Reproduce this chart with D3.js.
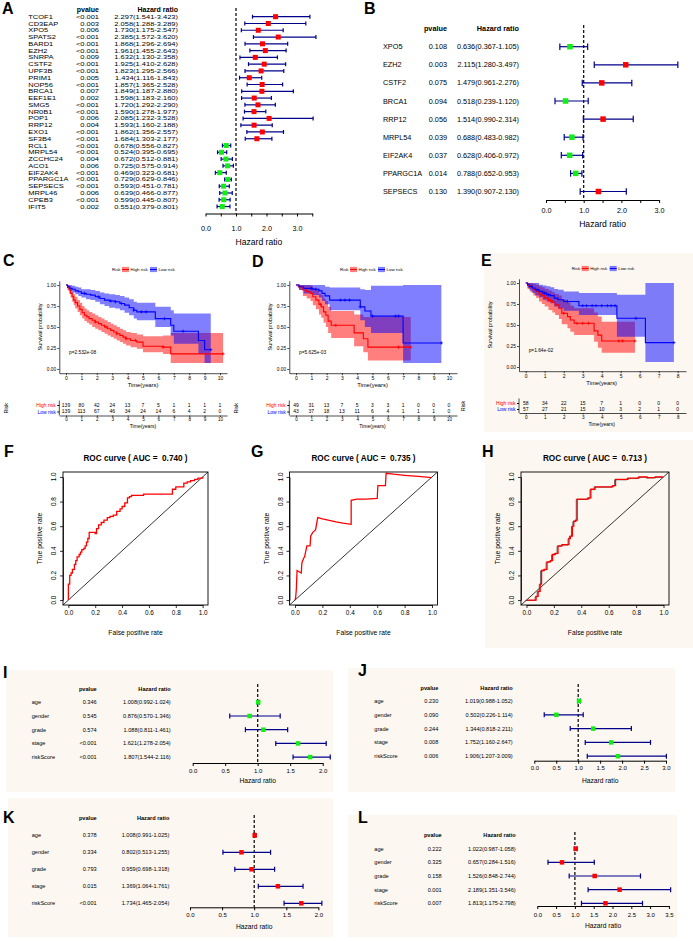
<!DOCTYPE html>
<html>
<head>
<meta charset="utf-8">
<script src="https://cdn.jsdelivr.net/npm/d3@7"></script>
<style>
  body { margin: 0; background: #fff; }
  svg { display: block; }
</style>
</head>
<body>
<svg id="fig" width="693" height="941"></svg>
<script>
const FONT = "'Liberation Sans', Arial, Helvetica, sans-serif";
const CREAM = "#fdf7f1";
const NAVY = "#00008b";
const RED = "#ff0000";
const GREEN = "#11ee11";

// ---------- A: univariate cox, 29 genes ----------
const aGenes = ["TCOF1","CD3EAP","XPO5","SPATS2","BARD1","EZH2","SNRPA","CSTF2","UPF3B","PRIM1",
  "NOP56","BRCA1","EEF1E1","SMG5","NR0B1","POP1","RRP12","EXO1","SF3B4","RCL1","MRPL54",
  "ZCCHC24","ACO1","EIF2AK4","PPARGC1A","SEPSECS","MRPL46","CPEB3","IFIT5"];
const aPval = ["<0.001","0.003","0.006","<0.001","<0.001","<0.001","0.009","<0.001","<0.001","0.005",
  "<0.001","0.007","0.002","<0.001","<0.001","0.006","0.004","<0.001","<0.001","<0.001","<0.001",
  "0.004","0.006","<0.001","<0.001","<0.001","0.006","<0.001","0.002"];
const aHR = [2.297,2.058,1.730,2.385,1.868,1.961,1.632,1.925,1.823,1.434,1.857,1.849,1.598,1.720,1.590,
  2.085,1.593,1.862,1.684,0.678,0.524,0.672,0.725,0.469,0.729,0.593,0.639,0.599,0.551];
const aLow = [1.541,1.288,1.175,1.572,1.296,1.455,1.130,1.410,1.295,1.116,1.365,1.187,1.183,1.292,1.278,
  1.232,1.160,1.356,1.303,0.556,0.395,0.512,0.575,0.323,0.629,0.451,0.466,0.445,0.379];
const aHigh = [3.423,3.289,2.547,3.620,2.694,2.643,2.358,2.628,2.566,1.843,2.528,2.880,2.160,2.290,1.977,
  3.528,2.188,2.557,2.177,0.827,0.695,0.881,0.914,0.681,0.846,0.781,0.877,0.807,0.801];

// ---------- B: multivariate cox, 9 genes ----------
const bGenes = ["XPO5","EZH2","CSTF2","BRCA1","RRP12","MRPL54","EIF2AK4","PPARGC1A","SEPSECS"];
const bPval = ["0.108","0.003","0.075","0.094","0.056","0.039","0.037","0.014","0.130"];
const bHR = [0.636,2.115,1.479,0.518,1.514,0.688,0.628,0.788,1.390];
const bLow = [0.367,1.280,0.961,0.239,0.990,0.483,0.406,0.652,0.907];
const bHigh = [1.105,3.497,2.276,1.120,2.314,0.982,0.972,0.953,2.130];

// ---------- I-L: clinical cox ----------
const clinVars = ["age","gender","grade","stage","riskScore"];
const iPval = ["0.346","0.545","0.574","<0.001","<0.001"];
const iHR = [1.008,0.876,1.088,1.621,1.807];
const iLow = [0.992,0.570,0.811,1.278,1.544];
const iHigh = [1.024,1.346,1.461,2.054,2.116];
const jPval = ["0.230","0.090","0.244","0.008","0.006"];
const jHR = [1.019,0.502,1.344,1.752,1.906];
const jLow = [0.988,0.226,0.818,1.160,1.207];
const jHigh = [1.052,1.114,2.211,2.647,3.009];
const kPval = ["0.378","0.334","0.793","0.015","<0.001"];
const kHR = [1.008,0.802,0.959,1.369,1.734];
const kLow = [0.991,0.513,0.698,1.064,1.465];
const kHigh = [1.025,1.255,1.318,1.761,2.054];
const lPval = ["0.222","0.325","0.158","0.001","0.007"];
const lHR = [1.022,0.657,1.526,2.189,1.813];
const lLow = [0.987,0.284,0.848,1.351,1.175];
const lHigh = [1.058,1.516,2.744,3.546,2.798];

// ---------- C-E: Kaplan-Meier (time, survival, lower, upper) ----------
const cHighT = [0,0.1,0.2,0.3,0.4,0.5,0.6,0.75,0.9,1.05,1.2,1.35,1.5,1.7,1.9,2.1,2.3,2.5,2.7,2.9,3.1,3.3,3.5,3.7,3.9,4.2,4.6,5.0,6.3,6.8];
const cHighS = [1,0.97,0.94,0.9,0.86,0.82,0.79,0.75,0.71,0.67,0.64,0.62,0.6,0.58,0.56,0.54,0.52,0.5,0.48,0.46,0.44,0.42,0.4,0.38,0.36,0.34,0.32,0.27,0.26,0.18];
const cHighLo = [1,0.94,0.9,0.85,0.8,0.76,0.72,0.68,0.64,0.6,0.57,0.55,0.53,0.5,0.48,0.46,0.44,0.42,0.4,0.38,0.36,0.34,0.32,0.3,0.28,0.26,0.24,0.2,0.18,0.07];
const cHighUp = [1,1,0.98,0.95,0.92,0.89,0.86,0.82,0.79,0.75,0.72,0.7,0.68,0.66,0.64,0.62,0.6,0.58,0.56,0.54,0.52,0.5,0.48,0.46,0.44,0.43,0.41,0.39,0.4,0.43];
const cHighEnd = 10.2;
const cHighCens = [1.9,2.6,3.3,3.9,4.5,6.3,10.2];
const cLowT = [0,0.1,0.25,0.4,0.6,0.8,1.0,1.3,1.6,1.9,2.2,2.5,2.8,3.2,3.5,3.8,4.1,4.4,4.6,5.8,6.8,7.0,8.6,9.0];
const cLowS = [1,0.98,0.96,0.95,0.93,0.92,0.9,0.89,0.88,0.86,0.84,0.82,0.81,0.8,0.78,0.76,0.73,0.7,0.68,0.6,0.52,0.45,0.34,0.23];
const cLowLo = [1,0.96,0.93,0.91,0.89,0.87,0.85,0.83,0.82,0.8,0.77,0.75,0.73,0.72,0.7,0.67,0.64,0.6,0.58,0.5,0.4,0.3,0.18,0.07];
const cLowUp = [1,1,1,0.99,0.98,0.97,0.95,0.95,0.94,0.93,0.91,0.9,0.89,0.88,0.87,0.85,0.83,0.8,0.79,0.74,0.7,0.66,0.66,0.66];
const cLowEnd = 9.4;
const cLowCens = [1.2,2.1,2.9,3.2,3.6,4.4,4.9,5.2,6.4,7.6,9.4];

const dHighT = [0,0.2,0.45,0.7,0.95,1.1,1.3,1.5,1.65,1.8,1.95,2.1,2.3,3.8,4.4,4.7];
const dHighS = [1,0.98,0.94,0.92,0.9,0.86,0.82,0.77,0.74,0.68,0.64,0.57,0.52,0.43,0.36,0.26];
const dHighLo = [1,0.94,0.87,0.84,0.81,0.76,0.71,0.65,0.61,0.55,0.5,0.43,0.37,0.27,0.2,0.1];
const dHighUp = [1,1,1,1,0.99,0.96,0.94,0.9,0.88,0.84,0.81,0.74,0.69,0.65,0.62,0.62];
const dHighEnd = 7.5;
const dHighCens = [0.2,1.6,2.6,6.7,7.5];
const dLowT = [0,0.2,0.5,1.1,1.5,1.7,1.9,2.2,4.2,4.5,4.9,7.0];
const dLowS = [1,0.98,0.96,0.95,0.93,0.9,0.87,0.82,0.74,0.69,0.63,0.31];
const dLowLo = [1,0.94,0.9,0.88,0.85,0.81,0.77,0.7,0.58,0.5,0.43,0.07];
const dLowUp = [1,1,1,1,1,1,0.98,0.97,0.95,0.94,0.99,1];
const dLowEnd = 9.5;
const dLowCens = [1.0,1.3,2.9,3.2,3.5,4.2,5.0,6.5,6.7,9.5];

const eHighT = [0,0.1,0.25,0.4,0.55,0.7,0.85,1.0,1.2,1.4,1.55,1.75,1.9,2.2,2.35,2.55,3.6,3.8,4.0];
const eHighS = [1,0.97,0.95,0.92,0.9,0.87,0.85,0.82,0.79,0.77,0.74,0.7,0.64,0.6,0.56,0.52,0.43,0.38,0.31];
const eHighLo = [1,0.93,0.89,0.85,0.82,0.78,0.75,0.72,0.68,0.65,0.62,0.57,0.51,0.46,0.42,0.38,0.3,0.23,0.17];
const eHighUp = [1,1,1,0.99,0.98,0.96,0.95,0.93,0.91,0.89,0.87,0.85,0.8,0.77,0.73,0.7,0.65,0.6,0.54];
const eHighEnd = 5.75;
const eHighCens = [0.8,1.3,2.0,2.7,3.0,3.3,4.9,5.1,5.75];
const eLowT = [0,0.1,0.2,0.35,0.5,0.7,0.9,1.1,1.3,1.5,1.7,2.0,2.8,4.8,6.3];
const eLowS = [1,0.98,0.96,0.94,0.92,0.9,0.88,0.86,0.85,0.82,0.8,0.78,0.73,0.58,0.29];
const eLowLo = [1,0.94,0.91,0.88,0.85,0.83,0.8,0.78,0.76,0.72,0.7,0.67,0.62,0.36,0.06];
const eLowUp = [1,1,1,1,1,0.98,0.97,0.96,0.95,0.93,0.92,0.9,0.88,0.86,1];
const eLowEnd = 7.8;
const eLowCens = [0.3,0.6,1.0,1.2,2.2,3.0,3.2,3.5,3.7,4.0,4.3,4.5,4.7,5.8,7.8];

// numbers at risk
const cRiskHigh = [139,80,42,24,13,7,5,1,1,1,1];
const cRiskLow = [139,113,67,46,34,24,14,6,4,2,0];
const dRiskHigh = [49,31,13,7,5,3,3,1,0,0,0];
const dRiskLow = [43,37,18,13,11,6,4,1,1,1,0];
const eRiskHigh = [58,34,22,15,7,1,0,0,0];
const eRiskLow = [57,27,21,15,10,3,2,1,0];

// ---------- F-H: ROC ----------
const rocFfpr = [0,0,0.01,0.02,0.03,0.045,0.055,0.065,0.08,0.09,0.1,0.115,0.125,0.135,0.145,0.155,0.175,0.2,0.21,0.225,
  0.245,0.265,0.29,0.31,0.335,0.36,0.385,0.4,0.42,0.44,0.455,0.47,0.5,0.56,0.63,0.7,0.75,0.775,0.8,0.83,0.86,0.885,0.91,0.94,0.965,1];
const rocFtpr = [0,0.13,0.2,0.22,0.25,0.29,0.32,0.35,0.37,0.39,0.41,0.42,0.44,0.47,0.5,0.55,0.55,0.54,0.58,0.61,
  0.63,0.65,0.67,0.68,0.69,0.72,0.74,0.76,0.79,0.83,0.84,0.85,0.85,0.86,0.86,0.86,0.86,0.9,0.92,0.92,0.95,0.96,0.97,0.98,0.99,1];
const rocGfpr = [0,0.005,0.01,0.015,0.03,0.046,0.05,0.063,0.07,0.087,0.11,0.115,0.13,0.15,0.166,0.2,0.25,0.3,0.35,0.41,
  0.41,0.45,0.52,0.6,0.605,0.66,0.665,0.72,0.8,0.9,1];
const rocGtpr = [0,0.02,0.09,0.24,0.23,0.22,0.3,0.34,0.35,0.44,0.44,0.52,0.55,0.57,0.67,0.66,0.648,0.635,0.625,0.615,
  0.81,0.82,0.82,0.825,0.93,0.93,1.03,1.022,1.013,1.004,0.995];
const rocHfpr = [0,0.05,0.07,0.085,0.1,0.11,0.13,0.15,0.175,0.19,0.21,0.23,0.26,0.3,0.31,0.32,0.335,0.345,0.36,0.37,
  0.42,0.45,0.47,0.5,0.56,0.63,0.65,0.7,0.74,0.78,0.82,0.88,0.94,1];
const rocHtpr = [0,0,0.03,0.07,0.13,0.24,0.25,0.31,0.32,0.37,0.38,0.44,0.45,0.45,0.5,0.52,0.6,0.64,0.65,0.82,
  0.82,0.83,0.9,0.92,0.92,0.93,0.98,0.98,0.99,0.99,1.0,0.995,1.0,1];
const aucF = "0.740", aucG = "0.735", aucH = "0.713";

const svg = d3.select("#fig").attr("font-family", FONT);

function styleAxis(ag, fs) {
  ag.attr("font-family", FONT).attr("font-size", fs);
  ag.selectAll("path, line").attr("stroke", "#000");
  ag.selectAll("text").attr("fill", "#000");
}

function panelLetter(ch, x, y) {
  svg.append("text").attr("x", x).attr("y", y).attr("font-size", 16)
    .attr("font-weight", "bold").text(ch);
}

function bgRect(b) {
  svg.append("rect").attr("x", b[0]).attr("y", b[1]).attr("width", b[2]).attr("height", b[3]).attr("fill", CREAM);
}

// widen glyphs of a small font so the rows keep the reference width without colliding
function stretch(sel, k) {
  if (k === 1) return;
  sel.attr("lengthAdjust", "spacingAndGlyphs")
    .attr("textLength", function () { return this.getComputedTextLength() * k; });
}

/**
 * Forest plot with the table of p values and hazard ratios on the left
 */
function drawForest(names, pv, hr, lo, hi, L) {
  const g = svg.append("g");
  const x = d3.scaleLinear().domain([0, L.axisMax]).range([L.x0, L.x0 + L.axisMax * L.ppu]);
  const rowY = i => L.y0 + i * L.dy;
  const fmt = d3.format(".3f");
  const k = L.stretch || 1;
  const hfs = L.headFs || L.fs;

  g.append("text").attr("x", L.pvX).attr("y", L.headY).attr("dy", "0.35em").attr("text-anchor", "end")
    .attr("font-size", hfs).attr("font-weight", "bold").text("pvalue");
  g.append("text").attr("x", L.hrX).attr("y", L.headY).attr("dy", "0.35em").attr("text-anchor", "end")
    .attr("font-size", hfs).attr("font-weight", "bold").text("Hazard ratio");

  stretch(g.selectAll(".nm").data(names).join("text").attr("x", L.nameX).attr("y", (d, i) => rowY(i))
    .attr("dy", "0.35em").attr("font-size", L.fs).text(d => d), k);
  stretch(g.selectAll(".pv").data(pv).join("text").attr("x", L.pvX).attr("y", (d, i) => rowY(i))
    .attr("dy", "0.35em").attr("text-anchor", "end").attr("font-size", L.fs).text(d => d), k);
  stretch(g.selectAll(".hrt").data(hr).join("text").attr("x", L.hrX).attr("y", (d, i) => rowY(i))
    .attr("dy", "0.35em").attr("text-anchor", "end").attr("font-size", L.fs)
    .text((d, i) => fmt(d) + "(" + fmt(lo[i]) + "-" + fmt(hi[i]) + ")"), k);

  // reference line at HR = 1
  g.append("line").attr("x1", x(1)).attr("x2", x(1)).attr("y1", L.dashTop).attr("y2", L.axisY)
    .attr("stroke", "#000").attr("stroke-width", 1.2).attr("stroke-dasharray", "3,2");

  const rows = hr.map((d, i) => ({ v: d, lo: lo[i], hi: hi[i], y: rowY(i) }));
  g.selectAll(".ci").data(rows).join("line")
    .attr("x1", r => x(r.lo)).attr("x2", r => x(r.hi)).attr("y1", r => r.y).attr("y2", r => r.y)
    .attr("stroke", NAVY).attr("stroke-width", 1.2);
  ["lo", "hi"].forEach(key => {
    g.selectAll(".cap" + key).data(rows).join("line")
      .attr("x1", r => x(r[key])).attr("x2", r => x(r[key]))
      .attr("y1", r => r.y - L.cap / 2).attr("y2", r => r.y + L.cap / 2)
      .attr("stroke", NAVY).attr("stroke-width", 1.2);
  });
  g.selectAll(".bx").data(rows).join("rect")
    .attr("x", r => x(r.v) - L.box / 2).attr("y", r => r.y - L.box / 2)
    .attr("width", L.box).attr("height", L.box)
    .attr("fill", r => L.color ? L.color : (r.v > 1 ? RED : GREEN));

  const ax = d3.axisBottom(x).tickValues(d3.range(0, L.axisMax + 1e-9, 0.5))
    .tickSize(L.tick).tickSizeOuter(0)
    .tickFormat(v => Math.abs(v / L.labStep - Math.round(v / L.labStep)) < 1e-6 ? v.toFixed(1) : "");
  const ag = g.append("g").attr("transform", `translate(0,${L.axisY})`).call(ax);
  styleAxis(ag, L.tickFs);
  ag.selectAll("path, line").attr("stroke-width", 1);
  ag.selectAll("text").attr("y", L.labOff).attr("dy", "0.35em");

  g.append("text").attr("x", (x(0) + x(L.axisMax)) / 2).attr("y", L.axisY + L.titleOff)
    .attr("dy", "0.35em").attr("text-anchor", "middle").attr("font-size", L.titleFs).text("Hazard ratio");
}

function stepData(t, s, lo, up, end) {
  const pts = t.map((v, i) => ({ t: v, s: s[i], lo: lo[i], up: up[i] }));
  const last = pts[pts.length - 1];
  pts.push({ t: end, s: last.s, lo: last.lo, up: last.up });
  return pts;
}

function survAt(pts, t) {
  let v = pts[0].s;
  pts.forEach(p => { if (p.t <= t) v = p.s; });
  return v;
}

/**
 * Kaplan-Meier curves with ribbons, legend and risk table
 */
function drawKM(L, groups, risk, pLabel) {
  const g = svg.append("g");
  const x = d3.scaleLinear().domain([0, L.tmax]).range([L.x0, L.x0 + L.tmax * L.ppy]);
  const y = d3.scaleLinear().domain([0, 1]).range([L.y0, L.y1]);
  const band = d3.area().curve(d3.curveStepAfter).x(p => x(p.t)).y0(p => y(p.lo)).y1(p => y(p.up));
  const line = d3.line().curve(d3.curveStepAfter).x(p => x(p.t)).y(p => y(p.s));

  groups.forEach(grp => {
    g.append("path").datum(grp.pts).attr("d", band).attr("fill", grp.col).attr("fill-opacity", 0.5);
  });
  groups.forEach(grp => {
    g.append("path").datum(grp.pts).attr("d", line).attr("fill", "none")
      .attr("stroke", grp.col).attr("stroke-width", 1.1);
    const cs = grp.cens.map(t => [x(t), y(survAt(grp.pts, t))]);
    g.selectAll(null).data(cs).join("path")
      .attr("d", c => `M${c[0] - 1.6},${c[1]}h3.2M${c[0]},${c[1] - 1.6}v3.2`)
      .attr("stroke", grp.col).attr("stroke-width", 0.8);
  });

  // axes
  const xa = x.copy().domain([x.invert(L.axL), x.invert(L.axR)]).range([L.axL, L.axR]);
  const ya = y.copy().domain([-0.05, 1.05]).range([y(-0.05), y(1.05)]);
  const gx = g.append("g").attr("transform", `translate(0,${ya(-0.05)})`)
    .call(d3.axisBottom(xa).tickValues(L.ticks).tickSize(2).tickSizeOuter(0).tickPadding(1.2));
  styleAxis(gx, 5);
  const gy = g.append("g").attr("transform", `translate(${L.axL},0)`)
    .call(d3.axisLeft(ya).tickValues([0, 0.25, 0.5, 0.75, 1]).tickFormat(d3.format(".2f"))
      .tickSize(2).tickSizeOuter(0).tickPadding(1.2));
  styleAxis(gy, 4.8);
  g.selectAll(".domain, .tick line").attr("stroke-width", 0.7);

  g.append("text").attr("transform", `translate(${L.ylabX},${(y(0) + y(1)) / 2}) rotate(-90)`)
    .attr("text-anchor", "middle").attr("dy", "0.35em").attr("font-size", 5.6).text("Survival probability");
  g.append("text").attr("x", (x(0) + x(L.tmax)) / 2).attr("y", ya(-0.05) + 11.5)
    .attr("text-anchor", "middle").attr("dy", "0.35em").attr("font-size", 5.8).text("Time(years)");
  g.append("text").attr("x", x(0) + 3).attr("y", y(0.2)).attr("dy", "0.35em")
    .attr("font-size", 4.8).text(pLabel);

  // legend
  const lg = g.append("g").attr("font-size", 4.4);
  lg.append("text").attr("x", L.legX).attr("y", L.legY).attr("dy", "0.35em").text("Risk");
  groups.forEach((grp, k) => {
    const sx = L.legX + 10 + k * 28;
    lg.append("rect").attr("x", sx).attr("y", L.legY - 2.6).attr("width", 7).attr("height", 5.2)
      .attr("fill", grp.col).attr("fill-opacity", 0.5);
    lg.append("line").attr("x1", sx).attr("x2", sx + 7).attr("y1", L.legY).attr("y2", L.legY)
      .attr("stroke", grp.col).attr("stroke-width", 1);
    lg.append("text").attr("x", sx + 8.5).attr("y", L.legY).attr("dy", "0.35em").text(grp.name);
  });

  // risk table
  const tg = g.append("g");
  const rs = d3.scalePoint().domain(groups.map(d => d.name)).range(L.riskY);
  [risk.high, risk.low].forEach((vals, k) => {
    tg.selectAll(null).data(vals).join("text")
      .attr("x", (v, i) => x(L.ticks[i])).attr("y", L.riskY[k]).attr("dy", "0.35em")
      .attr("text-anchor", "middle").attr("font-size", 5).text(v => v);
  });
  const tgy = tg.append("g").attr("transform", `translate(${L.axL},0)`)
    .call(d3.axisLeft(rs).tickSize(2).tickPadding(1.5));
  styleAxis(tgy, 5);
  tgy.select(".domain").remove();
  tgy.selectAll("text").attr("fill", (d, i) => groups[i].col);
  tg.append("line").attr("x1", L.axL).attr("x2", L.axL).attr("y1", L.riskY[0] - 4.5).attr("y2", L.tabAxY)
    .attr("stroke", "#000").attr("stroke-width", 0.7);
  const tgx = tg.append("g").attr("transform", `translate(0,${L.tabAxY})`)
    .call(d3.axisBottom(xa).tickValues(L.ticks).tickSize(1.5).tickSizeOuter(0).tickPadding(1));
  styleAxis(tgx, 4.6);
  tgx.selectAll(".domain, .tick line").attr("stroke-width", 0.7);
  tg.append("text").attr("x", (x(0) + x(L.tmax)) / 2).attr("y", L.tabAxY + 11).attr("dy", "0.35em")
    .attr("text-anchor", "middle").attr("font-size", 5).text("Time(years)");
  tg.append("text").attr("transform", `translate(${L.riskLabX},${(L.riskY[0] + L.riskY[1]) / 2}) rotate(-90)`)
    .attr("text-anchor", "middle").attr("dy", "0.35em").attr("font-size", 5.4).text("Risk");
}

/**
 * ROC curve in a framed box
 */
function drawROC(fpr, tpr, auc, L) {
  const g = svg.append("g");
  const x = d3.scaleLinear().domain([-0.04, 1.04]).range([L.left, L.right]);
  const y = d3.scaleLinear().domain([-0.04, 1.04]).range([L.bottom, L.top]);
  const pts = fpr.map((f, i) => [f, tpr[i]]);
  const id = "clip" + L.key;
  g.append("clipPath").attr("id", id).append("rect")
    .attr("x", L.left).attr("y", L.top).attr("width", L.right - L.left).attr("height", L.bottom - L.top);
  const inner = g.append("g").attr("clip-path", `url(#${id})`);
  inner.append("line").attr("x1", x(-0.04)).attr("y1", y(-0.04)).attr("x2", x(1.04)).attr("y2", y(1.04))
    .attr("stroke", "#000").attr("stroke-width", 0.8);
  const path = d3.line().curve(L.curve).x(d => x(d[0])).y(d => y(d[1]));
  if (L.shadow) {
    // the reference shows a thin dark trace just beside the red one
    inner.append("path").datum(pts).attr("d", path).attr("transform", "translate(-0.9,0.4)")
      .attr("fill", "none").attr("stroke", "#333").attr("stroke-width", 0.8);
  }
  inner.append("path").datum(pts).attr("d", path)
    .attr("fill", "none").attr("stroke", RED).attr("stroke-width", 1.3);
  g.append("rect").attr("x", L.left).attr("y", L.top).attr("width", L.right - L.left)
    .attr("height", L.bottom - L.top).attr("fill", "none").attr("stroke", "#000").attr("stroke-width", 0.9);

  const ticks = [0, 0.2, 0.4, 0.6, 0.8, 1];
  const xs = x.copy().domain([0, 1]).range([x(0), x(1)]);
  const ys = y.copy().domain([0, 1]).range([y(0), y(1)]);
  const gx = g.append("g").attr("transform", `translate(0,${L.bottom})`)
    .call(d3.axisBottom(xs).tickValues(ticks).tickFormat(d3.format(".1f")).tickSize(3).tickSizeOuter(0).tickPadding(2));
  styleAxis(gx, 6.4);
  const gy = g.append("g").attr("transform", `translate(${L.left},0)`)
    .call(d3.axisLeft(ys).tickValues(ticks).tickFormat("").tickSize(3).tickSizeOuter(0));
  styleAxis(gy, 6.4);
  g.selectAll(".domain, .tick line").attr("stroke-width", 0.8);
  g.selectAll(".ylab").data(ticks).join("text")
    .attr("transform", v => `translate(${L.left - 9},${ys(v)}) rotate(-90)`)
    .attr("text-anchor", "middle").attr("dy", "0.35em").attr("font-size", 6.4).text(d3.format(".1f"));

  g.append("text").attr("x", (L.left + L.right) / 2).attr("y", L.top - 14).attr("dy", "0.35em")
    .attr("text-anchor", "middle").attr("font-size", 8.2).attr("font-weight", "bold")
    .text("ROC curve ( AUC =\u00a0 " + auc + " )");
  g.append("text").attr("x", (L.left + L.right) / 2).attr("y", L.bottom + 28).attr("dy", "0.35em")
    .attr("text-anchor", "middle").attr("font-size", 6.7).text("False positive rate");
  g.append("text").attr("transform", `translate(${L.left - 23},${(L.top + L.bottom) / 2}) rotate(-90)`)
    .attr("text-anchor", "middle").attr("dy", "0.35em").attr("font-size", 6.7).text("True positive rate");
}

// ---------- backgrounds ----------
[[484, 253, 209, 179], [485, 440, 208, 208], [6, 670, 327, 122], [348, 668, 327, 124],
 [8, 798, 325, 139], [348, 815, 329, 122]].forEach(bgRect);

// ---------- A / B ----------
drawForest(aGenes, aPval, aHR, aLow, aHigh, {
  nameX: 28.3, pvX: 99, hrX: 178, headY: 9.8, y0: 16.7, dy: 6.78, fs: 5.9, stretch: 1.27, headFs: 7,
  x0: 205.5, ppu: 30.5, axisMax: 3.5, labStep: 1, axisY: 213.5, dashTop: 8,
  box: 5, cap: 4, tick: 3, labOff: 14.5, tickFs: 7.2, titleOff: 28.5, titleFs: 8.6
});
drawForest(bGenes, bPval, bHR, bLow, bHigh, {
  nameX: 383, pvX: 447, hrX: 519, headY: 28, y0: 46.7, dy: 18.1, fs: 7.3,
  x0: 546, ppu: 37.7, axisMax: 3.0, labStep: 1, axisY: 200, dashTop: 25,
  box: 5.5, cap: 6.5, tick: 3, labOff: 10.5, tickFs: 7.2, titleOff: 24, titleFs: 8.6
});

// ---------- C / D / E ----------
drawKM({ x0: 66, ppy: 15.4, tmax: 10, ticks: d3.range(0, 11), y0: 369, y1: 285, axL: 59.3, axR: 227,
  ylabX: 40, legX: 112, legY: 269.5, riskY: [405, 411.5], tabAxY: 415.5, riskLabX: 6 },
  [{ name: "High risk", col: RED, pts: stepData(cHighT, cHighS, cHighLo, cHighUp, cHighEnd), cens: cHighCens },
   { name: "Low risk", col: "#0000ff", pts: stepData(cLowT, cLowS, cLowLo, cLowUp, cLowEnd), cens: cLowCens }],
  { high: cRiskHigh, low: cRiskLow }, "p=2.532e-08");
drawKM({ x0: 296, ppy: 15.3, tmax: 10, ticks: d3.range(0, 11), y0: 369, y1: 285, axL: 289.3, axR: 457,
  ylabX: 270, legX: 340, legY: 269.5, riskY: [405, 411.5], tabAxY: 415.5, riskLabX: 236 },
  [{ name: "High risk", col: RED, pts: stepData(dHighT, dHighS, dHighLo, dHighUp, dHighEnd), cens: dHighCens },
   { name: "Low risk", col: "#0000ff", pts: stepData(dLowT, dLowS, dLowLo, dLowUp, dLowEnd), cens: dLowCens }],
  { high: dRiskHigh, low: dRiskLow }, "p=5.625e-03");
drawKM({ x0: 525.7, ppy: 19, tmax: 8, ticks: d3.range(0, 9), y0: 367, y1: 283, axL: 519, axR: 686,
  ylabX: 490, legX: 571.7, legY: 268.5, riskY: [403, 409], tabAxY: 413, riskLabX: 463 },
  [{ name: "High risk", col: RED, pts: stepData(eHighT, eHighS, eHighLo, eHighUp, eHighEnd), cens: eHighCens },
   { name: "Low risk", col: "#0000ff", pts: stepData(eLowT, eLowS, eLowLo, eLowUp, eLowEnd), cens: eLowCens }],
  { high: eRiskHigh, low: eRiskLow }, "p=1.64e-02");

// ---------- F / G / H ----------
drawROC(rocFfpr, rocFtpr, aucF, { key: "F", left: 63, right: 208, top: 472, bottom: 605, curve: d3.curveStepAfter });
drawROC(rocGfpr, rocGtpr, aucG, { key: "G", left: 289.5, right: 437.5, top: 472, bottom: 605, curve: d3.curveLinear });
drawROC(rocHfpr, rocHtpr, aucH, { key: "H", left: 521, right: 669, top: 472, bottom: 605, curve: d3.curveStepAfter, shadow: true });

// ---------- I / J / K / L ----------
drawForest(clinVars, iPval, iHR, iLow, iHigh, {
  nameX: 31.7, pvX: 96.7, hrX: 170.7, headY: 689, y0: 702.3, dy: 13.7, fs: 5.6,
  x0: 192.7, ppu: 65, axisMax: 2.0, labStep: 0.5, axisY: 763, dashTop: 684, color: GREEN,
  box: 4.5, cap: 5, tick: 3, labOff: 7.5, tickFs: 6, titleOff: 18, titleFs: 6.7
});
drawForest(clinVars, jPval, jHR, jLow, jHigh, {
  nameX: 374.3, pvX: 438.3, hrX: 512.7, headY: 688, y0: 701, dy: 13.8, fs: 5.6,
  x0: 534.3, ppu: 43.9, axisMax: 3.0, labStep: 0.5, axisY: 760.7, dashTop: 684, color: GREEN,
  box: 4.5, cap: 5, tick: 3, labOff: 7.5, tickFs: 6, titleOff: 20, titleFs: 6.7
});
drawForest(clinVars, kPval, kHR, kLow, kHigh, {
  nameX: 31.7, pvX: 96.7, hrX: 169.3, headY: 818.3, y0: 835.3, dy: 17, fs: 5.6,
  x0: 190, ppu: 64.2, axisMax: 2.0, labStep: 0.5, axisY: 907.3, dashTop: 815, color: RED,
  box: 4.5, cap: 5, tick: 3, labOff: 8, tickFs: 6, titleOff: 19, titleFs: 6.7
});
drawForest(clinVars, lPval, lHR, lLow, lHigh, {
  nameX: 374.3, pvX: 441.7, hrX: 515.7, headY: 835.3, y0: 848.7, dy: 13.65, fs: 5.6,
  x0: 537.3, ppu: 37.6, axisMax: 3.5, labStep: 0.5, axisY: 906, dashTop: 832, color: RED,
  box: 4.5, cap: 5, tick: 3, labOff: 8.5, tickFs: 6, titleOff: 20, titleFs: 6.7
});

// ---------- panel letters ----------
[["A", 2, 14], ["B", 364, 14], ["C", 3, 266], ["D", 252, 267], ["E", 481, 266],
 ["F", 4, 457], ["G", 251, 457], ["H", 482, 457], ["I", 3, 678], ["J", 358, 676],
 ["K", 3, 823], ["L", 358, 823]].forEach(d => panelLetter(d[0], d[1], d[2]));
</script>
</body>
</html>
